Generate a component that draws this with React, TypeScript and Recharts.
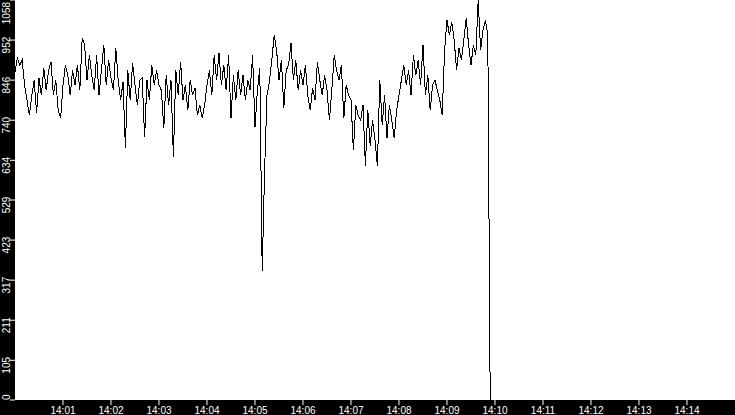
import React from 'react';
import { LineChart, Line, XAxis, YAxis, CartesianGrid } from 'recharts';

// one reading every 3 seconds, starting 14:00:00
const SAMPLE_STEP = 3;

const minute0 = [867, 904, 886, 899, 833, 793, 753, 806, 846, 758, 851, 806, 878, 819, 872, 894, 806, 846, 766, 745];
const minute1 = [833, 886, 859, 806, 872, 833, 886, 819, 957, 939, 846, 912, 859, 819, 912, 806, 872, 939, 833, 899];
const minute2 = [851, 819, 931, 846, 793, 841, 666, 872, 793, 891, 833, 780, 846, 851, 695, 846, 793, 886, 833, 872];
const minute3 = [833, 819, 719, 859, 780, 846, 642, 872, 806, 894, 793, 833, 766, 846, 806, 825, 753, 780, 745, 780];
const minute4 = [833, 872, 806, 912, 846, 917, 833, 886, 819, 912, 745, 859, 793, 872, 806, 859, 793, 846, 819, 912];
const minute5 = [721, 819, 878, 340, 607, 806, 841, 899, 965, 925, 846, 899, 772, 872, 886, 944, 846, 899, 819, 872];
const minute6 = [833, 886, 806, 766, 825, 793, 894, 846, 806, 859, 819, 740, 819, 912, 872, 846, 886, 745, 833, 806];
const minute7 = [793, 660, 780, 753, 740, 780, 620, 766, 673, 740, 687, 618, 846, 727, 806, 692, 780, 740, 692, 766];
const minute8 = [806, 846, 886, 833, 872, 806, 912, 859, 899, 833, 939, 806, 859, 766, 833, 846, 819, 793, 753, 925];
const minute9 = [1005, 965, 1000, 952, 872, 931, 899, 952, 1010, 939, 886, 939, 912, 1058, 925, 978, 1005, 965];

// the feed cuts out just before 14:10
const tailTimes = [592.5, 594];
const tailValues = [480, 0];

const xTicks = [60, 120, 180, 240, 300, 360, 420, 480, 540, 600, 660, 720, 780, 840];
const xTickLabels = ['14:01', '14:02', '14:03', '14:04', '14:05', '14:06', '14:07', '14:08', '14:09', '14:10', '14:11', '14:12', '14:13', '14:14'];
const yTicks = [0, 105, 211, 317, 423, 529, 634, 740, 846, 952, 1058];

const readings = [...minute0, ...minute1, ...minute2, ...minute3, ...minute4, ...minute5, ...minute6, ...minute7, ...minute8, ...minute9];
const data = readings
  .map((v, i) => ({ t: i * SAMPLE_STEP, v }))
  .concat(tailTimes.map((t, i) => ({ t, v: tailValues[i] })));

const FONT = '"Liberation Sans", Arial, sans-serif';
const PLOT_BOTTOM = 400;

const YTick = ({ y, payload }: any) => {
  const label = String(payload.value);
  const w = label.length * 5.56;
  // keep the end labels inside the plot height
  const c = Math.min(Math.max(y + 5, w / 2 + 2), PLOT_BOTTOM - w / 2);
  return (
    <text transform={`translate(10, ${c}) rotate(-90)`} textAnchor="middle" fill="#fff" fontSize={10} fontFamily={FONT}>
      {label}
    </text>
  );
};

const XTick = ({ x, payload }: any) => {
  const idx = xTicks.indexOf(payload.value);
  return (
    <text x={x} y={414} textAnchor="middle" fill="#fff" fontSize={10} fontFamily={FONT}>
      {xTickLabels[idx]}
    </text>
  );
};

export default function App() {
  return (
    <div style={{ width: 735, height: 415, background: '#000' }}>
      <style>{'body{margin:0}'}</style>
      <LineChart width={735} height={415} data={data} margin={{ top: 0, right: 0, left: 0, bottom: 0 }}>
        <CartesianGrid fill="#fff" stroke="none" horizontal={false} vertical={false} />
        <XAxis
          dataKey="t"
          type="number"
          domain={[0, 900]}
          ticks={xTicks}
          interval={0}
          height={15}
          tickSize={5}
          tickLine={{ stroke: '#fff' }}
          axisLine={false}
          tick={<XTick />}
        />
        <YAxis
          type="number"
          domain={[0, 1058]}
          ticks={yTicks}
          interval={0}
          width={15}
          tickSize={5}
          tickLine={{ stroke: '#fff' }}
          axisLine={false}
          tick={<YTick />}
        />
        <Line
          type="linear"
          dataKey="v"
          stroke="#000"
          strokeWidth={1}
          dot={false}
          activeDot={false}
          shapeRendering="crispEdges"
          isAnimationActive={false}
        />
      </LineChart>
    </div>
  );
}
